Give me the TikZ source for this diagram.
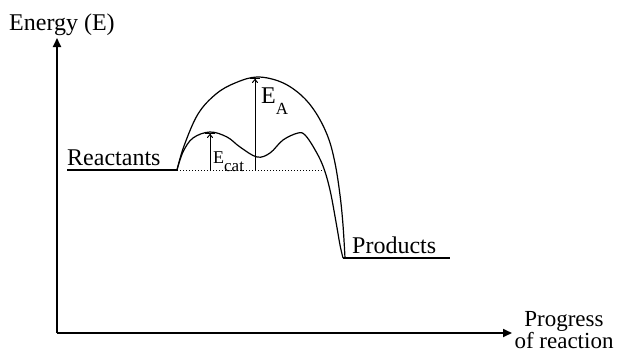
\documentclass[tikz,border=0pt]{standalone}
\usepackage{fontspec}
\setmainfont{Liberation Serif}
\usetikzlibrary{arrows.meta}

\newcommand\lowsub[2]{\raisebox{#1}{\fontsize{17}{17}\selectfont #2}}

\begin{document}
\begin{tikzpicture}[x=1pt,y=-1pt,
  lbl/.style={font=\fontsize{24}{20}\selectfont, inner sep=0pt},
  axis/.style={line width=1.7pt, -{Triangle[length=9pt,width=8pt]}},
  curve/.style={line width=1.2pt},
  gap/.style={line width=1pt, -{To[length=4pt,width=6pt]Bar[width=10pt,line width=1pt]}}]
  \useasboundingbox (0,0) rectangle (619,354);
  % axes
  \coordinate (origin) at (57,333);
  \coordinate (ytop) at (57,38);
  \coordinate (xend) at (512,333);
  \draw[axis] (origin) -- (ytop);
  \draw[axis] (origin) -- (xend);
  \node[lbl, anchor=base west] (energy) at (9,30) {Energy (E)};
  \node[lbl, font=\fontsize{23}{19}\selectfont, align=center] (progress) at (564,330)
    {Progress\\of reaction};
  % reactant and product levels
  \coordinate (r0) at (67,170);
  \coordinate (ts) at (177,170);
  \coordinate (dotend) at (325,170);
  \coordinate (pd) at (343,258);
  \coordinate (p1) at (450,258);
  \draw[curve] (r0) -- (ts);
  \draw[curve] (pd) -- (p1);
  \draw[dotted, line width=1pt] (ts) -- (dotend);
  \node[lbl, anchor=base west] (reactants) at (67,165) {Reactants};
  \node[lbl, anchor=base west] (products) at (352,253) {Products};
  % uncatalysed path
  \draw[curve] plot[smooth, tension=0.6] coordinates {(177,170) (184,146) (198,114)
    (216,94) (235,83) (257,77) (281,82) (301,95) (316,113) (328,137) (335,163)
    (340,195) (343,225) (345,258)};
  % catalysed path
  \draw[curve] plot[smooth, tension=0.6] coordinates {(177,170) (183,152) (193,138)
    (210,132) (227,137) (240,147) (257,157) (270,153) (283,140) (298,133) (305,135)
    (314,148) (323,166) (330,190) (336,222) (340,245) (343,258)};
  % activation energies
  \coordinate (catbase) at (210,170);
  \coordinate (catpeak) at (210,133);
  \coordinate (abase) at (255,170);
  \coordinate (apeak) at (255,78);
  \draw[gap] (catbase) -- (catpeak);
  \draw[gap] (abase) -- (apeak);
  \node[inner sep=0pt, anchor=base west, font=\fontsize{18}{18}\selectfont] (ecat)
    at (213,163) {E\lowsub{-8pt}{cat}};
  \node[lbl, anchor=base west] (ea) at (261,103) {E\lowsub{-11pt}{A}};
\end{tikzpicture}
\end{document}
